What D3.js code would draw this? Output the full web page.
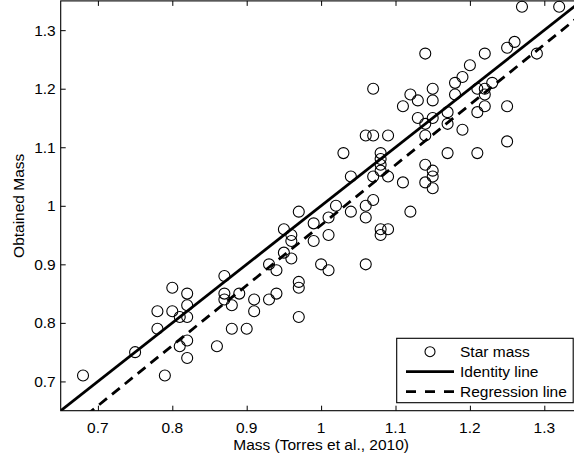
<!DOCTYPE html>
<html>
<head>
<meta charset="utf-8">
<script src="https://cdn.jsdelivr.net/npm/d3@7"></script>
<style>
	body { margin: 0; background: #fff; }
	svg { display: block; font-family: "Liberation Sans", Arial, sans-serif; }
	.tick-label { font-size: 15.5px; fill: #000; }
	.axis-label { font-size: 15.5px; fill: #000; }
	.legend-text { font-size: 15.5px; fill: #000; }
	.star { fill: none; stroke: #000; stroke-width: 1.1; }
	.identity-line { fill: none; stroke: #000; stroke-width: 2.8; }
	.regression-line { fill: none; stroke: #000; stroke-width: 2.8; stroke-dasharray: 10 6.5; }
</style>
</head>
<body>
<svg id="chart" width="574" height="463"></svg>
<script>
// Torres et al. (2010) mass vs obtained mass
const torresMass = [
	0.68, 0.75, 0.78, 0.80, 0.78, 0.81, 0.82, 0.82, 0.81, 0.82,
	0.82, 0.79, 0.86, 0.80, 0.82, 0.87, 0.87, 0.87, 0.88, 0.91,
	0.93, 0.91, 0.97, 0.88, 0.90, 0.89, 0.94, 0.97, 0.97, 0.93,
	0.94, 0.95, 0.96, 1.00, 1.01, 1.06, 0.95, 0.96, 0.96, 0.97,
	0.99, 0.99, 1.02, 1.01, 1.01, 1.04, 1.06, 1.07, 1.06, 1.08,
	1.09, 1.08, 1.12, 1.03, 1.08, 1.08, 1.08, 1.08, 1.04, 1.07,
	1.09, 1.11, 1.07, 1.06, 1.07, 1.09, 1.11, 1.27, 1.32, 1.14,
	1.22, 1.29, 1.25, 1.26, 1.20, 1.19, 1.18, 1.23, 1.21, 1.22,
	1.22, 1.18, 1.15, 1.15, 1.12, 1.13, 1.22, 1.21, 1.25, 1.17,
	1.13, 1.15, 1.14, 1.17, 1.19, 1.14, 1.25, 1.17, 1.21, 1.14,
	1.15, 1.15, 1.14, 1.15
];
const obtainedMass = [
	0.71, 0.75, 0.82, 0.82, 0.79, 0.81, 0.83, 0.81, 0.76, 0.77,
	0.74, 0.71, 0.76, 0.86, 0.85, 0.88, 0.85, 0.84, 0.83, 0.84,
	0.84, 0.82, 0.81, 0.79, 0.79, 0.85, 0.85, 0.87, 0.86, 0.90,
	0.89, 0.92, 0.91, 0.90, 0.89, 0.90, 0.96, 0.95, 0.94, 0.99,
	0.97, 0.94, 1.00, 0.98, 0.95, 0.99, 1.00, 1.01, 0.98, 0.96,
	0.96, 0.95, 0.99, 1.09, 1.09, 1.08, 1.07, 1.06, 1.05, 1.05,
	1.05, 1.04, 1.20, 1.12, 1.12, 1.12, 1.17, 1.34, 1.34, 1.26,
	1.26, 1.26, 1.27, 1.28, 1.24, 1.22, 1.21, 1.21, 1.20, 1.20,
	1.19, 1.19, 1.20, 1.18, 1.19, 1.18, 1.17, 1.16, 1.17, 1.16,
	1.15, 1.15, 1.14, 1.14, 1.13, 1.12, 1.11, 1.09, 1.09, 1.07,
	1.06, 1.05, 1.04, 1.03
];

const identityLine = [[0.65, 0.65], [1.35, 1.35]];
const regressionLine = [[0.65, 0.607], [1.35, 1.327]];

const tickValues = [0.7, 0.8, 0.9, 1.0, 1.1, 1.2, 1.3];
const legendLabels = ["Star mass", "Identity line", "Regression line"];

const margin = { top: 0.9, right: -7.5, bottom: 52.3, left: 60.7 };

const svg = d3.select("#chart");
const width = +svg.attr("width");
const height = +svg.attr("height");

const x = d3.scaleLinear()
	.domain([0.65, 1.35])
	.range([margin.left, width - margin.right]);

const y = d3.scaleLinear()
	.domain([0.65, 1.35])
	.range([height - margin.bottom, margin.top]);

const tickFmt = (d) => d3.format("~g")(d);

svg.append("defs").append("clipPath")
	.attr("id", "plot-clip")
	.append("rect")
	.attr("x", x.range()[0])
	.attr("y", y.range()[1])
	.attr("width", x.range()[1] - x.range()[0])
	.attr("height", y.range()[0] - y.range()[1]);

// lines
const lineGen = d3.line()
	.x((d) => x(d[0]))
	.y((d) => y(d[1]));

const lineGroup = svg.append("g")
	.attr("class", "line-group")
	.attr("clip-path", "url(#plot-clip)");

lineGroup.append("path")
	.datum(identityLine)
	.attr("class", "identity-line")
	.attr("d", lineGen);

lineGroup.append("path")
	.datum(regressionLine)
	.attr("class", "regression-line")
	.attr("d", lineGen);

// stars
svg.append("g")
	.attr("class", "star-group")
	.selectAll("circle")
	.data(d3.zip(torresMass, obtainedMass))
	.join("circle")
	.attr("class", "star")
	.attr("cx", (d) => x(d[0]))
	.attr("cy", (d) => y(d[1]))
	.attr("r", 5.5);

// axes, matlab style box with inward ticks
const tickLen = 5;
const axisGroup = svg.append("g").attr("class", "axis-group");

axisGroup.append("rect")
	.attr("x", x.range()[0])
	.attr("y", y.range()[1])
	.attr("width", x.range()[1] - x.range()[0])
	.attr("height", y.range()[0] - y.range()[1])
	.attr("fill", "none")
	.attr("stroke", "#000")
	.attr("stroke-width", 1.1);

axisGroup.append("g")
	.attr("transform", `translate(0,${y.range()[0]})`)
	.call(d3.axisBottom(x).tickValues(tickValues).tickSizeInner(-tickLen).tickSizeOuter(0).tickPadding(0).tickFormat(() => ""))
	.call((g) => g.select(".domain").remove());

axisGroup.append("g")
	.attr("transform", `translate(0,${y.range()[1]})`)
	.call(d3.axisTop(x).tickValues(tickValues).tickSizeInner(-tickLen).tickSizeOuter(0).tickFormat(() => ""))
	.call((g) => g.select(".domain").remove());

axisGroup.append("g")
	.attr("transform", `translate(${x.range()[0]},0)`)
	.call(d3.axisLeft(y).tickValues(tickValues).tickSizeInner(-tickLen).tickSizeOuter(0).tickFormat(() => ""))
	.call((g) => g.select(".domain").remove());

axisGroup.selectAll(".tick line").attr("stroke", "#000").attr("stroke-width", 1);

// tick labels
svg.append("g")
	.selectAll("text")
	.data(tickValues)
	.join("text")
	.attr("class", "tick-label")
	.attr("x", (d) => x(d))
	.attr("y", y.range()[0] + 22)
	.attr("text-anchor", "middle")
	.text(tickFmt);

svg.append("g")
	.selectAll("text")
	.data(tickValues)
	.join("text")
	.attr("class", "tick-label")
	.attr("x", x.range()[0] - 5)
	.attr("y", (d) => y(d) + 5.5)
	.attr("text-anchor", "end")
	.text(tickFmt);

// axis labels
svg.append("text")
	.attr("class", "axis-label")
	.attr("x", (x(0.65) + x(1.35)) / 2)
	.attr("y", 450)
	.attr("text-anchor", "middle")
	.text("Mass (Torres et al., 2010)");

svg.append("text")
	.attr("class", "axis-label")
	.attr("transform", `translate(24,${(y.range()[0] + y.range()[1]) / 2}) rotate(-90)`)
	.attr("text-anchor", "middle")
	.text("Obtained Mass");

// legend
const legend = svg.append("g")
	.attr("class", "legend-group")
	.attr("transform", "translate(396.7,338.3)");

legend.append("rect")
	.attr("width", 176.5)
	.attr("height", 64.4)
	.attr("fill", "#fff")
	.attr("stroke", "#000")
	.attr("stroke-width", 1.1);

const rowY = (i) => 13.4 + i * 20;

legend.append("circle")
	.attr("class", "star")
	.attr("cx", 33.3)
	.attr("cy", rowY(0))
	.attr("r", 5);

legend.append("line")
	.attr("class", "identity-line")
	.attr("x1", 9.3).attr("x2", 57.3)
	.attr("y1", rowY(1)).attr("y2", rowY(1));

legend.append("line")
	.attr("class", "regression-line")
	.attr("x1", 9.3).attr("x2", 57.3)
	.attr("y1", rowY(2)).attr("y2", rowY(2))
	.style("stroke-dasharray", "10 9");

legend.selectAll(".legend-text")
	.data(legendLabels)
	.join("text")
	.attr("class", "legend-text")
	.attr("x", 63.3)
	.attr("y", (d, i) => rowY(i) + 5.5)
	.text((d) => d);
</script>
</body>
</html>
